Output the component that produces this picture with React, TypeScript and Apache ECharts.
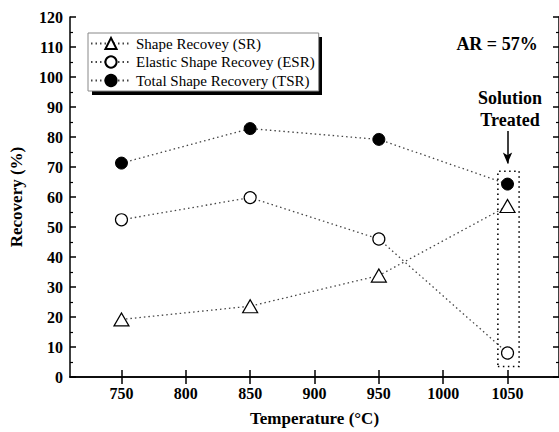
import React, { useEffect, useRef } from "react";
import * as echarts from "echarts";

const temperatures = [750, 850, 950, 1050];
const xTicks = [750, 800, 850, 900, 950, 1000, 1050];
const srValues = [19.2, 23.6, 33.8, 57.0];
const esrValues = [52.4, 59.8, 46.0, 8.0];
const tsrValues = [71.3, 82.8, 79.2, 64.3];
const seriesNames = ["Shape Recovey (SR)", "Elastic Shape Recovey (ESR)", "Total Shape Recovery (TSR)"];
const boxRange = { x0: 1042.5, x1: 1059, y0: 3.5, y1: 68.6 };
const arrowRange = { x: 1050, from: 82, to: 71.2 };

const FONT = "Times New Roman";

export default function App() {
  const ref = useRef<HTMLDivElement>(null);
  useEffect(() => {
    if (!ref.current) return;
    const chart = echarts.init(ref.current, null, { renderer: "svg" });
    const lineStyle = { color: "#444", width: 1.3, type: [1.5, 3] as any };
    const pts = (vals: number[]) => temperatures.map((t, i) => [t, vals[i]]);
    const axisLine = { show: true, lineStyle: { color: "#000", width: 1.5 } };
    chart.setOption({
      animation: false,
      textStyle: { fontFamily: FONT },
      grid: { left: 68, right: -2, top: 17, bottom: 50 },
      legend: {
        orient: "vertical",
        left: 88,
        top: 33,
        z: 10,
        padding: [3, 4, 3, 2],
        itemGap: 3.5,
        itemWidth: 40,
        itemHeight: 14,
        backgroundColor: "#fff",
        borderColor: "#888",
        borderWidth: 1,
        borderRadius: 0,
        textStyle: { fontFamily: FONT, fontSize: 15, color: "#000" },
        data: seriesNames,
      },
      graphic: [
        { type: "rect", z: 1, shape: { x: 92, y: 37, width: 230, height: 58 }, style: { fill: "#000" } },
        {
          type: "text", z: 10, x: 497, y: 44,
          style: { text: "AR = 57%", fontFamily: FONT, fontWeight: "bold", fontSize: 18, fill: "#000", textAlign: "center", textVerticalAlign: "middle" },
        },
        {
          type: "text", z: 10, x: 510, y: 98,
          style: { text: "Solution", fontFamily: FONT, fontWeight: "bold", fontSize: 18, fill: "#000", textAlign: "center", textVerticalAlign: "middle" },
        },
        {
          type: "text", z: 10, x: 510, y: 120,
          style: { text: "Treated", fontFamily: FONT, fontWeight: "bold", fontSize: 18, fill: "#000", textAlign: "center", textVerticalAlign: "middle" },
        },
      ],
      xAxis: [
        {
          type: "value",
          min: 710,
          max: 1090,
          position: "bottom",
          name: "Temperature (°C)",
          nameLocation: "middle",
          nameGap: 33,
          nameTextStyle: { fontFamily: FONT, fontWeight: "bold", fontSize: 17, color: "#000" },
          axisLine,
          axisTick: { show: true, inside: true, length: 7, customValues: xTicks, lineStyle: { color: "#000", width: 1.5 } },
          axisLabel: { customValues: xTicks, formatter: (v: number) => String(v), fontFamily: FONT, fontWeight: "bold", fontSize: 16, color: "#000", margin: 8 },
          splitLine: { show: false },
        },
        {
          type: "value",
          min: 710,
          max: 1090,
          position: "top",
          axisLine,
          axisTick: { show: true, inside: true, length: 7, customValues: xTicks, lineStyle: { color: "#000", width: 1.5 } },
          axisLabel: { show: false },
          splitLine: { show: false },
        },
      ],
      yAxis: [
        {
          type: "value",
          min: 0,
          max: 120,
          interval: 10,
          position: "left",
          name: "Recovery (%)",
          nameLocation: "middle",
          nameGap: 45,
          nameTextStyle: { fontFamily: FONT, fontWeight: "bold", fontSize: 17, color: "#000" },
          axisLine,
          axisTick: { show: true, inside: true, length: 6, lineStyle: { color: "#000", width: 1.5 } },
          minorTick: { show: true, splitNumber: 2, length: 3, lineStyle: { color: "#000", width: 1.2 } },
          axisLabel: { fontFamily: FONT, fontWeight: "bold", fontSize: 16, color: "#000", margin: 7 },
          splitLine: { show: false },
        },
        {
          type: "value",
          min: 0,
          max: 120,
          interval: 10,
          position: "right",
          axisLine,
          axisTick: { show: true, inside: true, length: 6, lineStyle: { color: "#000", width: 1.5 } },
          minorTick: { show: true, splitNumber: 2, length: 3, lineStyle: { color: "#000", width: 1.2 } },
          axisLabel: { show: false },
          splitLine: { show: false },
        },
      ],
      series: [
        {
          name: seriesNames[0],
          type: "line",
          data: pts(srValues),
          symbol: "triangle",
          symbolSize: [15, 13],
          lineStyle,
          itemStyle: { color: "#fff", borderColor: "#000", borderWidth: 1.2 },
          z: 3,
          markArea: {
            silent: true,
            itemStyle: { color: "rgba(0,0,0,0)", borderColor: "#000", borderWidth: 1.6, borderType: [1.5, 3.5] as any },
            data: [[{ xAxis: boxRange.x0, yAxis: boxRange.y0 }, { xAxis: boxRange.x1, yAxis: boxRange.y1 }]],
          },
          markLine: {
            silent: true,
            symbol: ["none", "arrow"],
            symbolSize: [7, 11],
            label: { show: false },
            lineStyle: { color: "#000", width: 1.5, type: "solid" },
            data: [[{ coord: [arrowRange.x, arrowRange.from] }, { coord: [arrowRange.x, arrowRange.to] }]],
          },
        },
        {
          name: seriesNames[1],
          type: "line",
          data: pts(esrValues),
          symbol: "circle",
          symbolSize: 12,
          lineStyle,
          itemStyle: { color: "#fff", borderColor: "#000", borderWidth: 1.2 },
          z: 3,
        },
        {
          name: seriesNames[2],
          type: "line",
          data: pts(tsrValues),
          symbol: "circle",
          symbolSize: 12,
          lineStyle,
          itemStyle: { color: "#000", borderColor: "#000", borderWidth: 1 },
          z: 3,
        },
      ],
    });
    return () => chart.dispose();
  }, []);
  return <div ref={ref} style={{ width: 559, height: 432, position: "absolute", left: 0, top: 0 }} />;
}
